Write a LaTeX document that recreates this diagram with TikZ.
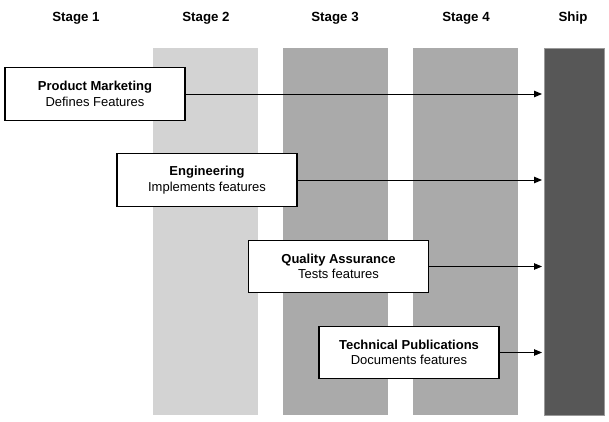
\documentclass[tikz,border=0pt]{standalone}
\usepackage{fontspec}
\setmainfont{Liberation Sans}
\usetikzlibrary{arrows.meta}
\definecolor{colA}{HTML}{D3D3D3}
\definecolor{colB}{HTML}{AAAAAA}
\definecolor{colShip}{HTML}{575757}
\begin{document}
\begin{tikzpicture}[x=1pt,y=-1pt,
  column/.style={rectangle,inner sep=0,minimum width=105pt,minimum height=367pt,draw=none,anchor=north west},
  stagelabel/.style={font=\fontsize{13.3}{15}\selectfont\bfseries,inner sep=0},
  taskbox/.style={rectangle,draw=black,line width=1.2pt,fill=white,minimum width=180pt,minimum height=52.5pt,inner sep=0,align=center,font=\fontsize{13}{15.5}\selectfont},
  flow/.style={line width=0.9pt,-{Triangle[length=8pt,width=6.5pt]},shorten >=2pt}
]
\useasboundingbox (0,0) rectangle (609,422);
\fill[white] (0,0) rectangle (609,422);
% columns
\node[column,fill=colA] (c2) at (153,48) {};
\node[column,fill=colB] (c3) at (283,48) {};
\node[column,fill=colB] (c4) at (413,48) {};
\node[column,fill=colShip,minimum width=60pt,draw=gray!80,line width=0.6pt] (ship) at (544,48) {};
% stage labels
\node[stagelabel] (s1) at (76,18) {Stage 1};
\node[stagelabel] (s2) at (206,18) {Stage 2};
\node[stagelabel] (s3) at (335,18) {Stage 3};
\node[stagelabel] (s4) at (466,18) {Stage 4};
\node[stagelabel] (s5) at (573,18) {Ship};
% boxes
\node[taskbox] (pm) at (95,94) {\textbf{Product Marketing}\\Defines Features};
\node[taskbox] (eng) at (207,180) {\textbf{Engineering}\\Implements features};
\node[taskbox] (qa) at (338.5,266.5) {\textbf{Quality Assurance}\\Tests features};
\node[taskbox] (tp) at (409,352.5) {\textbf{Technical Publications}\\Documents features};
% arrows
\draw[flow] (pm.east) -- (pm.east -| ship.west);
\draw[flow] (eng.east) -- (eng.east -| ship.west);
\draw[flow] (qa.east) -- (qa.east -| ship.west);
\draw[flow] (tp.east) -- (tp.east -| ship.west);
\end{tikzpicture}
\end{document}
